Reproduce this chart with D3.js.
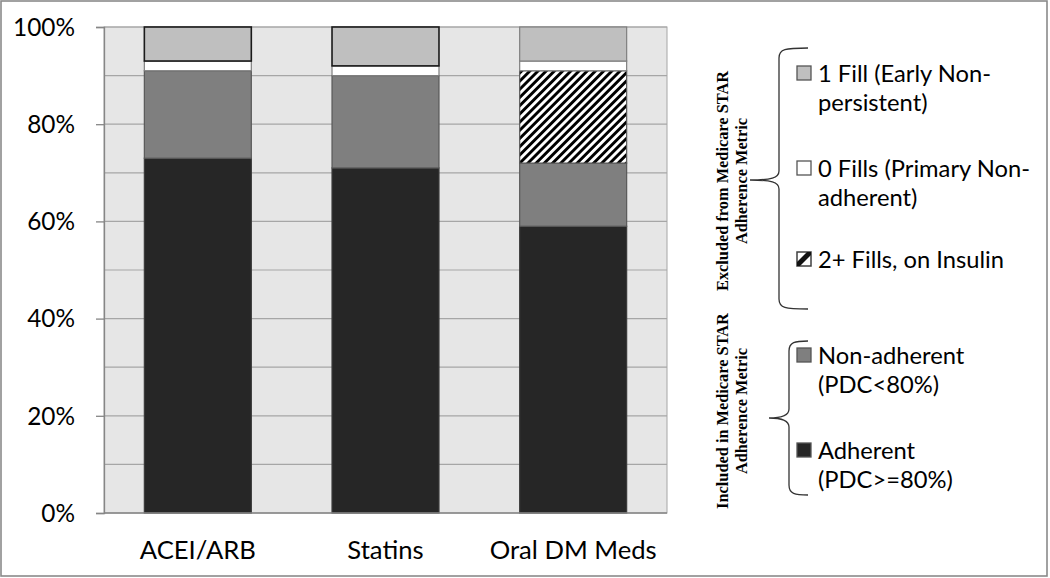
<!DOCTYPE html>
<html>
<head>
<meta charset="utf-8">
<script src="https://cdn.jsdelivr.net/npm/d3@7/dist/d3.min.js"></script>
<style>
  html, body { margin: 0; padding: 0; background: #fff; }
  svg { display: block; }
</style>
</head>
<body>
<svg id="chart" width="1050" height="578"></svg>
<script>
// ---------------- DATA ----------------
const categories = ["ACEI/ARB", "Statins", "Oral DM Meds"];
const adherent    = [73, 71, 59];   // Adherent (PDC>=80%)
const nonAdherent = [18, 19, 13];   // Non-adherent (PDC<80%)
const onInsulin   = [0, 0, 19];     // 2+ Fills, on Insulin
const zeroFills   = [2, 2, 2];      // 0 Fills (Primary Non-adherent)
const oneFill     = [7, 8, 7];      // 1 Fill (Early Non-persistent)
const yTicks = [0, 20, 40, 60, 80, 100];
const gridTicks = [10, 20, 30, 40, 50, 60, 70, 80, 90, 100];

const seriesKeys = ["adherent", "nonAdherent", "onInsulin", "zeroFills", "oneFill"];
const excludedItems = [
  { key: "oneFill",   lines: ["1 Fill (Early Non-", "persistent)"] },
  { key: "zeroFills", lines: ["0 Fills (Primary Non-", "adherent)"] },
  { key: "onInsulin", lines: ["2+ Fills, on Insulin"] }
];
const includedItems = [
  { key: "nonAdherent", lines: ["Non-adherent", "(PDC<80%)"] },
  { key: "adherent",    lines: ["Adherent", "(PDC>=80%)"] }
];
const excludedLabel = ["Excluded from Medicare STAR", "Adherence Metric"];
const includedLabel = ["Included in Medicare STAR", "Adherence Metric"];

// ---------------- STYLES ----------------
const fills = {
  adherent: "#262626",
  nonAdherent: "#7f7f7f",
  onInsulin: "url(#hatch)",
  zeroFills: "#ffffff",
  oneFill: "#bfbfbf"
};
const strokes = {
  adherent: "#3a3a3a",
  nonAdherent: "#595959",
  onInsulin: "#595959",
  zeroFills: "#7f7f7f",
  oneFill: "#7f7f7f"
};
const oneFillStrongStroke = [true, true, false];
const sansFont = "Lato, 'Open Sans', sans-serif";
const serifFont = "'Liberation Serif', 'DejaVu Serif', serif";

// ---------------- TABLE ----------------
const table = categories.map((c, i) => ({
  category: c,
  adherent: adherent[i],
  nonAdherent: nonAdherent[i],
  onInsulin: onInsulin[i],
  zeroFills: zeroFills[i],
  oneFill: oneFill[i],
  idx: i
}));

const svg = d3.select("#chart");

// font fitting helper: returns font size for text to have target width
function fitSize(text, family, weight, target) {
  const t = svg.append("text").attr("font-family", family).attr("font-weight", weight)
    .attr("font-size", 100).text(text);
  const w = t.node().getComputedTextLength();
  t.remove();
  return 100 * target / w;
}
const tickFs = fitSize("100%", sansFont, "normal", 62);
const catFs = fitSize("Oral DM Meds", sansFont, "normal", 167);
const legFs = fitSize("0 Fills (Primary Non-", sansFont, "normal", 212);
const serFs = fitSize("Excluded from Medicare STAR", serifFont, "bold", 220);

// defs: hatch pattern
const defs = svg.append("defs");
const pat = defs.append("pattern").attr("id", "hatch")
  .attr("patternUnits", "userSpaceOnUse")
  .attr("width", 5.8).attr("height", 5.8)
  .attr("patternTransform", "rotate(45)");
pat.append("rect").attr("width", 5.8).attr("height", 5.8).attr("fill", "#fff");
pat.append("rect").attr("width", 2.9).attr("height", 5.8).attr("fill", "#000");

// outer frame
svg.append("rect").attr("x", 1).attr("y", 1).attr("width", 1046).attr("height", 575)
  .attr("fill", "#fff").attr("stroke", "#8a8a8a").attr("stroke-width", 1.6);

// ---------------- SCALES ----------------
const plot = { left: 104, right: 667, top: 27, bottom: 513 };
const x = d3.scaleBand().domain(categories).range([plot.left, plot.right])
  .paddingInner(0.43).paddingOuter(0.215);
const y = d3.scaleLinear().domain([0, 100]).range([plot.bottom, plot.top]);

// plot background
svg.append("rect").attr("x", plot.left).attr("y", plot.top)
  .attr("width", plot.right - plot.left).attr("height", plot.bottom - plot.top)
  .attr("fill", "#e6e6e6").attr("stroke", "#a6a6a6").attr("stroke-width", 1);

// gridlines
svg.append("g").selectAll("line").data(gridTicks).join("line")
  .attr("x1", plot.left).attr("x2", plot.right)
  .attr("y1", d => y(d)).attr("y2", d => y(d))
  .attr("stroke", "#a6a6a6").attr("stroke-width", 1.2);

// stacked bars
const stack = d3.stack().keys(seriesKeys);
const stacked = stack(table);
const barG = svg.append("g");
stacked.forEach(layer => {
  const key = layer.key;
  barG.append("g").selectAll("rect")
    .data(layer.filter(d => d[1] - d[0] > 0))
    .join("rect")
    .attr("x", d => x(d.data.category))
    .attr("width", x.bandwidth())
    .attr("y", d => y(d[1]))
    .attr("height", d => y(d[0]) - y(d[1]))
    .attr("fill", fills[key])
    .attr("stroke", d => (key === "oneFill" && oneFillStrongStroke[d.data.idx]) ? "#1a1a1a" : strokes[key])
    .attr("stroke-width", d => (key === "oneFill" && oneFillStrongStroke[d.data.idx]) ? 1.6 : 1.2);
});

// y axis
const yAxis = d3.axisLeft(y).tickValues(yTicks).tickSize(8).tickPadding(21)
  .tickFormat(d => d + "%");
const yg = svg.append("g").attr("transform", `translate(${plot.left},0)`).call(yAxis);
yg.select(".domain").attr("stroke", "#868686").attr("stroke-width", 1.3);
yg.selectAll(".tick line").attr("stroke", "#868686").attr("stroke-width", 1.3);
yg.selectAll(".tick text").attr("font-family", sansFont).attr("font-size", tickFs)
  .attr("fill", "#000").attr("dy", "0.34em");

// baseline
svg.append("line").attr("x1", plot.left).attr("x2", plot.right)
  .attr("y1", y(0)).attr("y2", y(0)).attr("stroke", "#868686").attr("stroke-width", 1.3);

// category labels
svg.append("g").selectAll("text").data(categories).join("text")
  .attr("x", d => x(d) + x.bandwidth() / 2)
  .attr("y", 559)
  .attr("text-anchor", "middle")
  .attr("font-family", sansFont).attr("font-size", catFs).attr("fill", "#000")
  .text(d => d);

// ---------------- LEGEND ----------------
const lg = svg.append("g");
function drawSwatch(key, sx, base) {
  const sy = base - 16;
  const sz = 14;
  if (key === "onInsulin") {
    lg.append("rect").attr("x", sx).attr("y", sy).attr("width", sz).attr("height", sz)
      .attr("fill", "#fff").attr("stroke", "#404040").attr("stroke-width", 1.5);
    lg.append("path")
      .attr("d", `M${sx},${sy + sz} L${sx},${sy + sz - 4} L${sx + sz - 4},${sy} L${sx + sz},${sy} L${sx + sz},${sy + 3} L${sx + 3},${sy + sz} Z`)
      .attr("fill", "#111");
    lg.append("path")
      .attr("d", `M${sx},${sy + sz} L${sx},${sy + 6} L${sx + 6},${sy + 6} Z`).attr("fill", "none");
  } else {
    lg.append("rect").attr("x", sx).attr("y", sy).attr("width", sz).attr("height", sz)
      .attr("fill", fills[key]).attr("stroke", "#555").attr("stroke-width", 1.3);
  }
}
function drawItems(items, baselines) {
  items.forEach((it, i) => {
    const b = baselines[i];
    drawSwatch(it.key, 797, b);
    it.lines.forEach((ln, j) => {
      lg.append("text").attr("x", 818).attr("y", b + j * 29)
        .attr("font-family", sansFont).attr("font-size", legFs).attr("fill", "#000")
        .text(ln);
    });
  });
}
drawItems(excludedItems, [82, 177, 268]);
drawItems(includedItems, [364, 459]);

// braces
function brace(xv, xEnd, xTip, top, bottom, tip) {
  const p = `M${xEnd},${top} C${xv + 6},${top} ${xv},${top + 1} ${xv},${top + 10}`
    + ` L${xv},${tip - 9} C${xv},${tip - 2} ${xv - 8},${tip} ${xTip},${tip}`
    + ` C${xv - 8},${tip} ${xv},${tip + 2} ${xv},${tip + 9}`
    + ` L${xv},${bottom - 10} C${xv},${bottom - 1} ${xv + 6},${bottom} ${xEnd},${bottom}`;
  lg.append("path").attr("d", p).attr("fill", "none")
    .attr("stroke", "#333").attr("stroke-width", 1.3);
}
brace(779, 808, 750, 48, 309, 180);
brace(789, 808, 769, 341, 495, 418);

// rotated group labels
function rotLabel(lines, cx, cy) {
  lines.forEach((ln, j) => {
    const bx = cx + j * 19;
    lg.append("text")
      .attr("transform", `translate(${bx},${cy}) rotate(-90)`)
      .attr("text-anchor", "middle")
      .attr("font-family", serifFont).attr("font-weight", "bold")
      .attr("font-size", serFs).attr("fill", "#000")
      .text(ln);
  });
}
rotLabel(excludedLabel, 728, 181);
rotLabel(includedLabel, 728, 411);
</script>
</body>
</html>
